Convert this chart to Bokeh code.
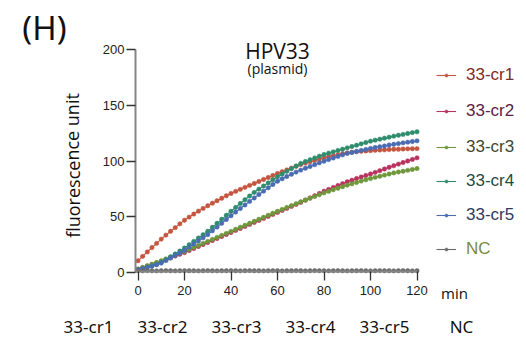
from bokeh.plotting import figure
from bokeh.models import Range1d, Label, Legend, LegendItem, FixedTicker
from bokeh.embed import file_html
from bokeh.resources import INLINE

# Reading times (min)
time_min = list(range(0, 121, 2))

# Fluorescence readings for each crRNA and the negative control
cr1 = [10.5, 14.5, 18.5, 22.4, 26.2, 30.0, 33.6, 37.0, 40.3, 43.7,
       47.0, 49.8, 52.5, 55.1, 57.6, 60.0, 62.3, 64.5, 66.7, 68.9,
       71.0, 72.9, 74.7, 76.5, 78.3, 80.0, 81.8, 83.6, 85.4, 87.2,
       89.0, 90.6, 92.2, 93.8, 95.4, 97.0, 98.3, 99.5, 100.7, 101.9,
       103.0, 104.0, 104.9, 105.8, 106.7, 107.5, 108.0, 108.5, 108.9, 109.2,
       109.5, 109.8, 110.0, 110.2, 110.5, 110.7, 110.8, 110.9, 111.1, 111.2,
       111.3]
cr2 = [3.0, 4.4, 5.8, 7.2, 8.6, 10.0, 11.6, 13.2, 14.8, 16.4,
       18.0, 19.8, 21.6, 23.4, 25.2, 27.0, 28.8, 30.6, 32.4, 34.2,
       36.0, 37.8, 39.6, 41.4, 43.2, 45.0, 46.8, 48.6, 50.4, 52.2,
       54.0, 55.8, 57.6, 59.4, 61.2, 63.0, 65.0, 67.0, 69.0, 71.0,
       73.0, 74.7, 76.4, 78.1, 79.8, 81.5, 82.9, 84.4, 85.8, 87.2,
       88.5, 90.0, 91.5, 93.0, 94.5, 96.0, 97.4, 98.8, 100.2, 101.6,
       103.0]
cr3 = [3.0, 4.5, 6.0, 7.5, 9.0, 10.5, 12.2, 13.9, 15.6, 17.3,
       19.0, 20.8, 22.6, 24.4, 26.2, 28.0, 29.8, 31.6, 33.4, 35.2,
       37.0, 38.8, 40.6, 42.4, 44.2, 46.0, 47.8, 49.6, 51.4, 53.2,
       55.0, 56.7, 58.4, 60.1, 61.8, 63.5, 65.1, 66.7, 68.3, 69.9,
       71.5, 72.9, 74.3, 75.7, 77.1, 78.5, 79.7, 80.9, 82.1, 83.3,
       84.5, 85.5, 86.5, 87.5, 88.5, 89.5, 90.3, 91.0, 91.8, 92.6,
       93.4]
cr4 = [2.5, 3.5, 4.7, 6.0, 7.4, 9.0, 11.4, 14.0, 16.6, 19.3,
       22.0, 25.0, 28.0, 31.0, 34.0, 37.0, 40.6, 44.2, 47.8, 51.4,
       55.0, 58.5, 62.0, 65.4, 68.7, 72.0, 74.9, 77.7, 80.5, 83.3,
       86.0, 88.5, 90.9, 93.3, 95.7, 98.0, 99.7, 101.3, 102.9, 104.5,
       106.0, 107.2, 108.4, 109.6, 110.8, 112.0, 113.2, 114.4, 115.6, 116.8,
       118.0, 118.9, 119.8, 120.7, 121.6, 122.5, 123.3, 124.1, 124.9, 125.7,
       126.4]
cr5 = [2.5, 3.4, 4.5, 5.7, 7.0, 8.5, 10.7, 13.0, 15.3, 17.6,
       20.0, 22.8, 25.6, 28.4, 31.2, 34.0, 37.4, 40.8, 44.2, 47.6,
       51.0, 54.3, 57.5, 60.7, 63.9, 67.0, 70.1, 73.1, 76.1, 79.1,
       82.0, 84.2, 86.3, 88.3, 90.2, 92.0, 93.7, 95.3, 96.9, 98.5,
       100.0, 101.5, 102.9, 104.3, 105.7, 107.0, 107.9, 108.8, 109.7, 110.6,
       111.5, 112.3, 113.0, 113.7, 114.5, 115.2, 115.8, 116.5, 117.1, 117.7,
       118.3]
nc = [1.6, 1.5, 1.7, 1.6, 1.5, 1.6, 1.7, 1.6, 1.5, 1.6,
      1.7, 1.6, 1.6, 1.5, 1.6, 1.7, 1.6, 1.5, 1.6, 1.6,
      1.7, 1.6, 1.5, 1.6, 1.7, 1.6, 1.6, 1.5, 1.6, 1.7,
      1.6, 1.5, 1.6, 1.6, 1.7, 1.6, 1.5, 1.6, 1.7, 1.6,
      1.6, 1.5, 1.6, 1.7, 1.6, 1.5, 1.6, 1.6, 1.7, 1.6,
      1.5, 1.6, 1.7, 1.6, 1.6, 1.5, 1.6, 1.7, 1.6, 1.5,
      1.6]

series_names = ["33-cr1", "33-cr2", "33-cr3", "33-cr4", "33-cr5", "NC"]
series_values = [cr1, cr2, cr3, cr4, cr5, nc]
line_colors = ["#c4553f", "#b8325e", "#6f983c", "#2f8c6c", "#4a6cb3", "#6a6a6a"]
legend_text_colors = ["#7e2c24", "#5c2044", "#3f472c", "#1f4a44", "#2c3a5c", "#7d8c35"]

x_ticks = [0, 20, 40, 60, 80, 100, 120]
y_ticks = [0, 50, 100, 150, 200]
group_labels = ["33-cr1", "33-cr2", "33-cr3", "33-cr4", "33-cr5", "NC"]

# canvas geometry: the plot frame fills the whole page, axes sit at fixed spots
W, H = 526, 346
ORIGIN_PX, ORIGIN_PY = 137.5, 272.0     # pixel of (0 min, 0 units)
PX_PER_MIN = 2.325
PX_PER_UNIT = 1.113
XS = -ORIGIN_PX / PX_PER_MIN
YS = -(H - ORIGIN_PY) / PX_PER_UNIT

p = figure(width=W, height=H, output_backend="svg", toolbar_location=None,
           x_range=Range1d(XS, XS + W / PX_PER_MIN),
           y_range=Range1d(YS, YS + H / PX_PER_UNIT),
           min_border_left=0, min_border_right=0, min_border_top=0,
           min_border_bottom=0)
p.outline_line_color = None
p.xgrid.visible = False
p.ygrid.visible = False
p.background_fill_color = "white"
p.border_fill_color = "white"


def to_x(px):
    return (px - ORIGIN_PX) / PX_PER_MIN


def to_y(py):
    return (ORIGIN_PY - py) / PX_PER_UNIT


# axes
for ax in (p.xaxis[0], p.yaxis[0]):
    ax.axis_line_color = "#858585"
    ax.axis_line_width = 2
    ax.major_tick_line_color = "#333333"
    ax.major_tick_line_width = 1.3
    ax.minor_tick_line_color = None
    ax.major_tick_in = 0
    ax.major_tick_out = 9
    ax.major_label_text_font = "Liberation Sans"
    ax.major_label_text_font_size = "13px"
    ax.major_label_text_color = "#222222"

y_axis_x = to_x(135)
x_axis_y = to_y(271)
p.xaxis[0].ticker = FixedTicker(ticks=x_ticks)
p.xaxis[0].bounds = (y_axis_x, 120)
p.xaxis[0].fixed_location = x_axis_y
p.xaxis[0].major_label_standoff = 5
p.yaxis[0].ticker = FixedTicker(ticks=y_ticks)
p.yaxis[0].bounds = (0, 200)
p.yaxis[0].fixed_location = y_axis_x
p.yaxis[0].major_label_standoff = 2

# curves
renderers = []
for name, vals, col in zip(series_names, series_values, line_colors):
    ln = p.line(time_min, vals, line_color=col, line_width=1.1)
    sc = p.scatter(time_min, vals, size=4.4, fill_color=col, line_color=col,
                   line_width=0.5)
    renderers.append((ln, sc))

# legend: one box per entry so each label keeps its own colour
row_centers = [75, 111, 146.5, 180.5, 214.5, 249]
for (ln, sc), name, tcol, cy in zip(renderers, series_names, legend_text_colors, row_centers):
    lg = Legend(items=[LegendItem(label=name, renderers=[ln, sc])],
                location=(436, H - (cy + 10)),
                orientation="vertical", padding=0, margin=0, spacing=0,
                glyph_width=20, glyph_height=8, label_height=20,
                label_standoff=10, label_text_font="Liberation Sans",
                label_text_font_size="17px", label_text_color=tcol,
                label_text_baseline="middle",
                border_line_color=None, background_fill_alpha=0)
    p.add_layout(lg)


# texts
def add_text(txt, px, py, size, font="Open Sans", color="#111111",
             align="center", baseline="middle", angle=0.0):
    p.add_layout(Label(x=to_x(px), y=to_y(py), text=txt,
                       text_font=font, text_font_size=size, text_color=color,
                       text_align=align, text_baseline=baseline, angle=angle))


add_text("(H)", 44, 27, "33px", font="Noto Sans")
add_text("HPV33", 277, 50, "21px")
add_text("(plasmid)", 277, 68, "14px")
add_text("min", 454, 292, "15px")
add_text("fluorescence unit", 72, 165, "18px", angle=1.5708)

label_centers = [88, 162, 236, 310, 384, 461]
for txt, cx in zip(group_labels, label_centers):
    add_text(txt, cx, 326, "17px", font="Noto Sans")

open("out.html", "w").write(file_html(p, INLINE))
